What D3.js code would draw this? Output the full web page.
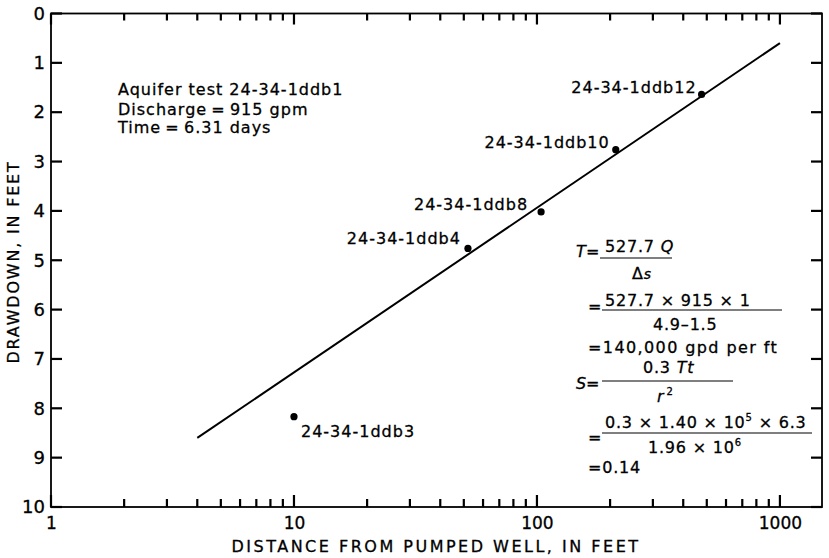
<!DOCTYPE html>
<html>
<head>
<meta charset="utf-8">
<script src="https://cdn.jsdelivr.net/npm/d3@7"></script>
<style>
  html, body { margin: 0; padding: 0; background: #fff; }
  svg { display: block; font-family: "DejaVu Sans", sans-serif; }
  text { fill: #000; stroke: #000; stroke-width: 0.3px; }
</style>
</head>
<body>
<svg id="chart" width="829" height="558"></svg>
<script>
// Observation wells: distance from pumped well (ft) and drawdown (ft)
const wells = ["24-34-1ddb3", "24-34-1ddb4", "24-34-1ddb8", "24-34-1ddb10", "24-34-1ddb12"];
const distances = [10, 52, 104, 211, 476];
const drawdowns = [8.17, 4.76, 4.02, 2.76, 1.64];

// Fitted straight line on the semilog plot
const fitDistance = [4, 1000];
const fitDrawdown = [8.6, 0.6];

// Axis extents and tick labels
const xExtent = [1, 1490];
const yExtent = [0, 10];
const xMajorTicks = [1, 10, 100, 1000];
const xMinorTicks = [2, 3, 4, 5, 6, 7, 8, 9, 20, 30, 40, 50, 60, 70, 80, 90,
                     200, 300, 400, 500, 600, 700, 800, 900];
const yTicks = [0, 1, 2, 3, 4, 5, 6, 7, 8, 9, 10];

// Where each well label sits relative to its point
const labelPlacement = {
  "24-34-1ddb3":  { dx: 7,   dy: 20, anchor: "start" },
  "24-34-1ddb4":  { dx: -7,  dy: -4, anchor: "end" },
  "24-34-1ddb8":  { dx: -13, dy: -2, anchor: "end" },
  "24-34-1ddb10": { dx: -6,  dy: -2, anchor: "end" },
  "24-34-1ddb12": { dx: -5,  dy: -1, anchor: "end" }
};

const svg = d3.select("#chart");
const plotLeft = 51, plotRight = 822, plotTop = 13.5, plotBottom = 507;

const x = d3.scaleLog().domain(xExtent).range([plotLeft, plotRight]);
const y = d3.scaleLinear().domain(yExtent).range([plotTop, plotBottom]);

// Tick labels through d3 axes (tick marks drawn separately below)
svg.append("g").attr("transform", `translate(0,${plotBottom})`)
  .call(d3.axisBottom(x).tickValues(xMajorTicks).tickSize(0).tickPadding(10)
        .tickFormat(d3.format("d")))
  .call(g => g.select(".domain").remove())
  .call(g => g.selectAll(".tick text").attr("font-size", 17).attr("font-family", "DejaVu Sans"));
svg.append("g").attr("transform", `translate(${plotLeft},0)`)
  .call(d3.axisLeft(y).tickValues(yTicks).tickSize(0).tickPadding(6)
        .tickFormat(d3.format("d")))
  .call(g => g.select(".domain").remove())
  .call(g => g.selectAll(".tick text").attr("font-size", 18).attr("font-family", "DejaVu Sans"));

// Inward tick marks on all four sides, drawn as thin filled bars
const tickLayer = svg.append("g").attr("fill", "#000");
const xTickData = xMajorTicks.map(v => ({ v, len: 12 }))
  .concat(xMinorTicks.map(v => ({ v, len: 8 })));
tickLayer.selectAll("rect.xb").data(xTickData).join("rect")
  .attr("class", "xb")
  .attr("x", d => x(d.v) - 1.1).attr("width", 2.2)
  .attr("y", d => plotBottom - d.len).attr("height", d => d.len);
tickLayer.selectAll("rect.xt").data(xTickData).join("rect")
  .attr("class", "xt")
  .attr("x", d => x(d.v) - 1.1).attr("width", 2.2)
  .attr("y", plotTop).attr("height", d => d.len - 1);
tickLayer.selectAll("rect.yl").data(yTicks).join("rect")
  .attr("class", "yl")
  .attr("x", plotLeft).attr("width", 11)
  .attr("y", d => y(d) - 1.1).attr("height", 2.2);
tickLayer.selectAll("rect.yr").data(yTicks).join("rect")
  .attr("class", "yr")
  .attr("x", plotRight - 11).attr("width", 11)
  .attr("y", d => y(d) - 1.1).attr("height", 2.2);

// Plot frame
svg.append("rect")
  .attr("x", plotLeft).attr("y", plotTop)
  .attr("width", plotRight - plotLeft).attr("height", plotBottom - plotTop)
  .attr("fill", "none").attr("stroke", "#000").attr("stroke-width", 1.8);

// Axis titles
svg.append("text")
  .attr("x", 436).attr("y", 552)
  .attr("text-anchor", "middle")
  .attr("font-size", 16).attr("letter-spacing", 2.5)
  .text("DISTANCE FROM PUMPED WELL, IN FEET");
svg.append("text")
  .attr("transform", "translate(19,262) rotate(-90)")
  .attr("text-anchor", "middle")
  .attr("font-size", 16).attr("letter-spacing", 1.8)
  .text("DRAWDOWN, IN FEET");

// Fitted line
const fitPoints = fitDistance.map((d, i) => [d, fitDrawdown[i]]);
svg.append("path")
  .datum(fitPoints)
  .attr("d", d3.line().x(d => x(d[0])).y(d => y(d[1])))
  .attr("fill", "none").attr("stroke", "#000").attr("stroke-width", 2);

// Observation points and labels
const obs = wells.map((w, i) => ({ name: w, r: distances[i], s: drawdowns[i] }));
svg.selectAll("circle.obs").data(obs).join("circle")
  .attr("class", "obs")
  .attr("cx", d => x(d.r)).attr("cy", d => y(d.s)).attr("r", 3.6)
  .attr("fill", "#000");
svg.selectAll("text.well").data(obs).join("text")
  .attr("class", "well")
  .attr("x", d => x(d.r) + labelPlacement[d.name].dx)
  .attr("y", d => y(d.s) + labelPlacement[d.name].dy)
  .attr("text-anchor", d => labelPlacement[d.name].anchor)
  .attr("font-size", 16).attr("letter-spacing", 1)
  .text(d => d.name);

// Test description
const info = svg.append("g").attr("font-size", 16).attr("letter-spacing", 1);
[["Aquifer test 24-34-1ddb1", 95], ["Discharge\u2009=\u2009915 gpm", 115], ["Time\u2009=\u20096.31 days", 133]]
  .forEach(([t, by]) => info.append("text").attr("x", 118).attr("y", by).text(t));

// Transmissivity and storage coefficient computation
const f = svg.append("g").attr("font-size", 16).attr("letter-spacing", 0.8);
const txt = (xx, yy, s, italic) => {
  const t = f.append("text").attr("x", xx).attr("y", yy).text(s);
  if (italic) t.attr("font-style", "italic");
  return t;
};
const rule = (x1, x2, yy) => f.append("line")
  .attr("x1", x1).attr("x2", x2).attr("y1", yy).attr("y2", yy)
  .attr("stroke", "#000").attr("stroke-width", 1.2);

// T = 527.7 Q / Δs
txt(576, 257, "T", true);
txt(586, 257, "=");
const n1 = txt(605, 252, "527.7 ");
n1.append("tspan").attr("font-style", "italic").text("Q");
rule(600, 672, 258);
const d1 = txt(632, 279, "\u0394");
d1.append("tspan").attr("font-style", "italic").attr("font-size", 14).text("s");

txt(588, 312, "=");
txt(605, 306, "527.7 \u00d7 915 \u00d7 1");
rule(602, 782, 310);
txt(653, 330, "4.9\u20131.5");
txt(588, 353, "=140,000 gpd per ft").attr("letter-spacing", 1.4);

// S = 0.3 Tt / r^2
txt(576, 389, "S", true);
txt(586, 389, "=");
const n2 = txt(643, 373, "0.3 ");
n2.append("tspan").attr("font-style", "italic").text("Tt");
rule(602, 733, 381);
const d2 = txt(657, 402, "r", true);
d2.append("tspan").attr("font-style", "normal").attr("font-size", 10).attr("dx", 2).attr("dy", -7).text("2");

txt(588, 443, "=");
const n3 = txt(605, 428, "0.3 \u00d7 1.40 \u00d7 10");
n3.append("tspan").attr("font-size", 10).attr("dy", -7).text("5");
n3.append("tspan").attr("dy", 7).text(" \u00d7 6.3");
rule(602, 812, 433);
const d3t = txt(648, 453, "1.96 \u00d7 10");
d3t.append("tspan").attr("font-size", 10).attr("dy", -7).text("6");
txt(588, 473, "=0.14");
</script>
</body>
</html>
